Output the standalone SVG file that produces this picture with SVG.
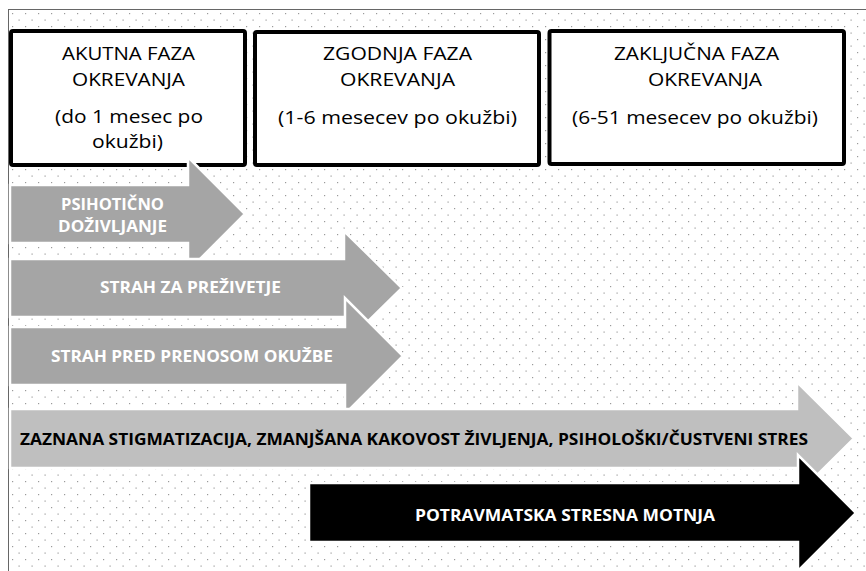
<svg xmlns="http://www.w3.org/2000/svg" width="866" height="571" viewBox="0 0 866 571">
<defs>
<pattern id="dots" x="9" y="10" width="13" height="13" patternUnits="userSpaceOnUse">
<rect x="3" y="3" width="1.2" height="1.2" fill="#9a9a9a"/>
<rect x="9.5" y="9.5" width="1.2" height="1.2" fill="#9a9a9a"/>
</pattern>
<style>
.box{fill:#fff;stroke:#000;stroke-width:4;}
.bt{font-family:"Open Sans","Liberation Sans",sans-serif;font-size:19px;fill:#000;text-anchor:middle;}
.arr{stroke:#fff;stroke-width:2.5;stroke-linejoin:miter;}
.g1{fill:#a5a5a5;}
.g2{fill:#bfbfbf;}
.blk{fill:#000;}
.lw{font-family:"Open Sans","Liberation Sans",sans-serif;font-size:16.5px;font-weight:bold;fill:#fff;}
.lb{font-family:"Open Sans","Liberation Sans",sans-serif;font-size:16.5px;font-weight:bold;fill:#000;}
</style>
</defs>
<rect width="866" height="571" fill="#fff"/>
<rect x="9" y="10" width="857" height="561" fill="url(#dots)"/>
<line x1="8" y1="9.5" x2="866" y2="9.5" stroke="#666" stroke-width="1"/>
<line x1="8.5" y1="9" x2="8.5" y2="571" stroke="#666" stroke-width="1"/>

<g id="box-akutna">
<rect class="box" x="11" y="31" width="234" height="134" rx="2"/>
<text class="bt" x="128.5" y="60" textLength="133" lengthAdjust="spacingAndGlyphs">AKUTNA FAZA</text>
<text class="bt" x="128.5" y="86" textLength="113" lengthAdjust="spacingAndGlyphs">OKREVANJA</text>
<text class="bt" x="129" y="123" textLength="148" lengthAdjust="spacingAndGlyphs">(do 1 mesec po</text>
<text class="bt" x="127.5" y="148" textLength="71" lengthAdjust="spacingAndGlyphs">okužbi)</text>
</g>
<g id="box-zgodnja">
<rect class="box" x="255" y="32" width="284" height="133" rx="2"/>
<text class="bt" x="397.5" y="60" textLength="149" lengthAdjust="spacingAndGlyphs">ZGODNJA FAZA</text>
<text class="bt" x="397.5" y="86" textLength="115" lengthAdjust="spacingAndGlyphs">OKREVANJA</text>
<text class="bt" x="397.5" y="124" textLength="239" lengthAdjust="spacingAndGlyphs">(1-6 mesecev po okužbi)</text>
</g>
<g id="box-zakljucna">
<rect class="box" x="549.5" y="31" width="294.5" height="133" rx="2"/>
<text class="bt" x="696.5" y="60" textLength="165" lengthAdjust="spacingAndGlyphs">ZAKLJUČNA FAZA</text>
<text class="bt" x="705" y="86" textLength="114" lengthAdjust="spacingAndGlyphs">OKREVANJA</text>
<text class="bt" x="695" y="124" textLength="246" lengthAdjust="spacingAndGlyphs">(6-51 mesecev po okužbi)</text>
</g>

<g id="connectors">
<g id="arrow-psihoticno">
<path class="arr g1" d="M10,185 H188 V157 L245,214 L188,271 V243 H10 Z"/>
<text class="lw" x="61" y="210" textLength="103" lengthAdjust="spacingAndGlyphs">PSIHOTIČNO</text>
<text class="lw" x="58" y="232" textLength="109" lengthAdjust="spacingAndGlyphs">DOŽIVLJANJE</text>
</g>
<g id="arrow-strah-prezivetje">
<path class="arr g1" d="M10,259 H344 V231 L402,288 L344,345 V317 H10 Z"/>
<text class="lw" x="100" y="293" textLength="181" lengthAdjust="spacingAndGlyphs">STRAH ZA PREŽIVETJE</text>
</g>
<g id="arrow-strah-prenos">
<path class="arr g1" d="M10,327 H345 V298 L403,356 L345,414 V385 H10 Z"/>
<text class="lw" x="51" y="362" textLength="282" lengthAdjust="spacingAndGlyphs">STRAH PRED PRENOSOM OKUŽBE</text>
</g>
<g id="arrow-stigmatizacija">
<path class="arr g2" d="M10,409 H797 V382 L854,438.5 L797,495 V468 H10 Z"/>
<text class="lb" x="20" y="445" textLength="788" lengthAdjust="spacingAndGlyphs">ZAZNANA STIGMATIZACIJA, ZMANJŠANA KAKOVOST ŽIVLJENJA, PSIHOLOŠKI/ČUSTVENI STRES</text>
</g>
<g id="arrow-ptsm">
<path class="arr blk" d="M309,483 H798 V455 L856,513 L798,571 V542 H309 Z"/>
<text class="lw" x="415" y="521" textLength="300" lengthAdjust="spacingAndGlyphs">POTRAVMATSKA STRESNA MOTNJA</text>
</g>
</g>
</svg>
